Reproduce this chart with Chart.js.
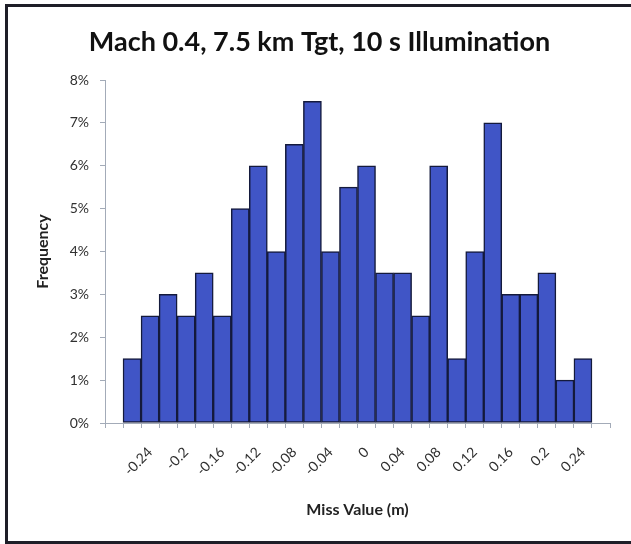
<!DOCTYPE html>
<html>
<head>
<meta charset="utf-8">
<script src="https://cdn.jsdelivr.net/npm/chart.js@4/dist/chart.umd.min.js"></script>
<style>
  html, body { margin: 0; padding: 0; background: #fff; }
  #wrap { position: relative; width: 631px; height: 544px; overflow: hidden; }
  #frame { position: absolute; left: 5px; top: 4px; width: 700px; height: 534px; border: 3px solid #1e1e28; }
  #myChart { position: absolute; left: 0; top: 0; }
</style>
</head>
<body>
<div id="wrap">
  <div id="frame"></div>
  <canvas id="myChart" width="631" height="544"></canvas>
</div>
<script>
// bins (m) - first and last are empty slots
var categories = ['-0.28', '-0.26', '-0.24', '-0.22', '-0.2', '-0.18', '-0.16', '-0.14',
    '-0.12', '-0.1', '-0.08', '-0.06', '-0.04', '-0.02', '0', '0.02', '0.04', '0.06',
    '0.08', '0.1', '0.12', '0.14', '0.16', '0.18', '0.2', '0.22', '0.24', '0.26'];
// frequency in %
var frequency = [null, 1.5, 2.5, 3, 2.5, 3.5, 2.5, 5, 6, 4, 6.5, 7.5, 4, 5.5, 6,
    3.5, 3.5, 2.5, 6, 1.5, 4, 7, 3, 3, 3.5, 1, 1.5, null];
var tickLabels = ['-0.24', '-0.2', '-0.16', '-0.12', '-0.08', '-0.04', '0',
    '0.04', '0.08', '0.12', '0.16', '0.2', '0.24'];
var yTicks = [0, 1, 2, 3, 4, 5, 6, 7, 8];

var axisColor = '#a3abb8';
var textColor = '#303030';
var fontName = 'Lato, "Liberation Sans", sans-serif';

var ctx = document.getElementById('myChart').getContext('2d');
var myChart = new Chart(ctx, {
    type: 'bar',
    data: {
        labels: categories,
        datasets: [{
            label: 'Frequency',
            data: frequency,
            backgroundColor: '#4055c6',
            borderColor: '#141a3c',
            borderWidth: 1.5,
            borderSkipped: false,
            barPercentage: 1,
            categoryPercentage: 1
        }]
    },
    options: {
        responsive: false,
        animation: false,
        layout: { padding: { left: 29, right: 21, top: 0, bottom: 21 } },
        plugins: {
            legend: { display: false },
            tooltip: { enabled: false },
            title: {
                display: true,
                text: 'Mach 0.4, 7.5 km Tgt, 10 s Illumination',
                color: '#111',
                font: { family: fontName, size: 27, weight: 'bold' },
                padding: { top: 26, bottom: 21.6 }
            }
        },
        scales: {
            x: {
                grid: { drawOnChartArea: false, tickLength: 5, color: axisColor },
                border: { color: axisColor },
                ticks: {
                    autoSkip: false,
                    maxRotation: 45,
                    minRotation: 45,
                    padding: 16,
                    color: textColor,
                    font: { family: fontName, size: 14 },
                    callback: function (value, index) {
                        var c = categories[index];
                        return tickLabels.indexOf(c) >= 0 ? c : '';
                    }
                },
                title: {
                    display: true,
                    text: 'Miss Value (m)',
                    color: '#222',
                    font: { family: fontName, size: 16, weight: 'bold' }
                },
                afterFit: function (scale) { scale.height = 100; }
            },
            y: {
                min: 0,
                max: 8,
                afterBuildTicks: function (scale) {
                    scale.ticks = yTicks.map(function (v) { return { value: v }; });
                },
                grid: { drawOnChartArea: false, tickLength: 5, color: axisColor },
                border: { color: axisColor },
                ticks: {
                    padding: 11,
                    color: textColor,
                    font: { family: fontName, size: 14 },
                    callback: function (value) { return value + '%'; }
                },
                title: {
                    display: true,
                    text: 'Frequency',
                    color: '#222',
                    font: { family: fontName, size: 16, weight: 'bold' }
                },
                afterFit: function (scale) { scale.width = 76; }
            }
        }
    }
});
</script>
</body>
</html>
